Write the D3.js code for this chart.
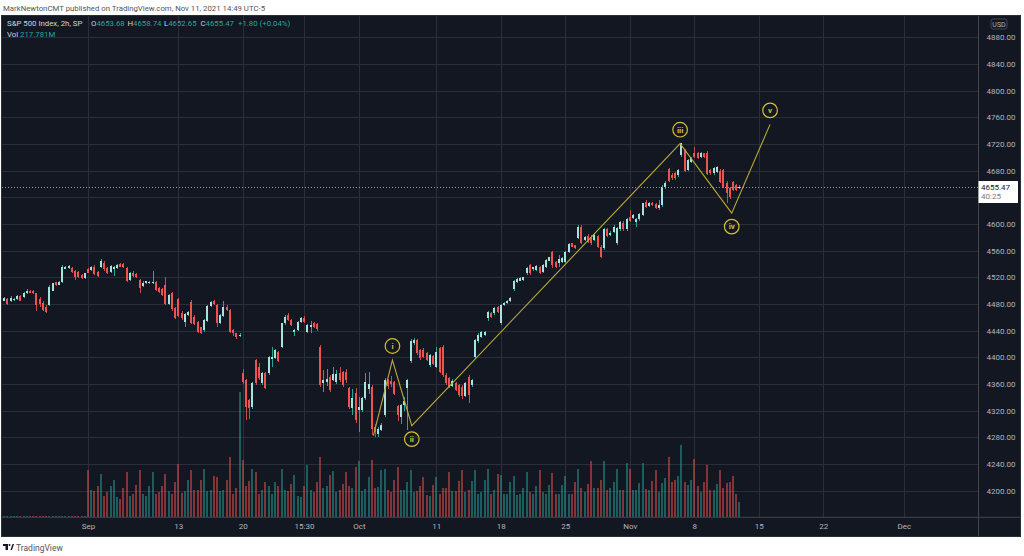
<!DOCTYPE html>
<html><head><meta charset="utf-8">
<script src="https://cdn.jsdelivr.net/npm/d3@7/dist/d3.min.js"></script>
<style>html,body{margin:0;padding:0;background:#fff;overflow:hidden}text{font-family:Roboto,"Open Sans",sans-serif}</style>
</head><body><svg id="c" width="1024" height="556"></svg>
<script>
// ---- data ----
const firstBarIndex = -26; // bar index of first candle (0 = Sep 1, 9:30)
const opens = [4485,4487,4485,4487,4487,4492,4490,4496,4500,4500,4496,4487,4482,4476,4478.5,4500,4512.5,4509,4513.5,4533,4533.5,4533.5,4530,4528.5,4523.5,4518.5,
4532,4531,4536,4528.5,4536,4542,4533.5,4528.5,4532,4533.5,4540,4540,4533.5,4516,4527,4525,4516,4507,4511,4511,4511,4513.5,4503.5,4502,4508.5,4480,4496,4473.5,4487,4467,4453.5,4463.5,4483.5,4461,4453.5,4445,4441,4455,4477,4485,4478.5,4452,4462,4476,4471,4441,4436,4432,
4377,4366,4336,4325,4396,4386,4361,4376,4376,4397,4398.5,4408.5,4416,4451,4463.5,4456,4438.5,4441,4453.5,4458.5,4438.5,4446,4451,4450,4416,4362,4363.5,4371,4366,4363.5,4377,4378.5,4378.5,4353.5,4323.5,4346,4321,4321,4338.5,4352,
4355,4296,4285,4291,4314,4366,4365,4363,4327,4310,4328,4354,4394,4421,4426,4411,4411,4406,4388.5,4402,4386,4413.5,4416,4373.5,4368.5,4357,4361,4358.5,4356,4342,4371,4358.5,
4401,4424,4431,4434,4458.5,4466,4466,4475,4451,4478.5,4481,4484,4502,4513.5,4515,4516,4526,4538.5,4532,4531,4536,4528.5,4536,4545,4558.5,4543.5,4542,4543.5,4543.5,4558.5,4571,4568,
4578.5,4596,4576,4582,4581,4576,4582,4566,4563.5,4592,4583.5,4588.5,4571,4592,4602,4592,4611,4608.5,4603.5,4607,4613.5,4633.5,4627,4631.5,4630,4623.5,4628.5,4655,
4682,4673.5,4676,4673.5,4703.5,4711,4681,4693.5,4706,4706,4701,4706,4707,4681,4676,4678.5,4680,4681,4662,4653.5,4663.5,4658.5,4653.68];
const highs = [4490,4489,4492,4489,4493,4494,4498,4502,4501,4501,4497,4490,4484,4478,4509,4512,4513,4514,4538,4537,4539,4535,4531,4530,4525,4527,
4534,4537,4538,4530,4547,4544,4535,4538,4537,4540,4541,4542,4536,4528,4529,4526,4518,4514,4515,4515,4530,4515,4505,4504,4520,4495,4498,4475,4489,4469,4467,4470,4486,4463,4455,4446,4458,4478,4485,4486,4480,4465,4484,4478,4472,4442,4437,4436,
4383,4368,4338,4363,4397,4392,4378,4378,4402,4416,4412,4410,4452,4463,4466,4458,4443,4455,4460,4462,4450,4454,4453,4452,4418,4381,4383,4374,4386,4381,4386,4380,4382,4356,4353,4354,4341,4341,4376,4378,
4358,4300,4295,4302,4369,4368,4372,4365,4329,4330,4340,4368,4428,4429,4428,4413,4414,4408,4405,4404,4416,4416,4418,4376,4370,4368,4363,4360,4358,4363,4373,4368,
4428,4436,4440,4440,4470,4468,4475,4477,4480,4483,4486,4490,4516,4519,4520,4521,4535,4540,4536,4538,4537,4540,4548,4551,4560,4545,4553.5,4550,4560,4571,4572,4569,
4598,4598,4582,4585,4583,4585,4584,4568,4594,4594,4589,4598,4595,4605,4604,4609,4621,4615,4609,4616,4632,4636,4633,4633,4631,4636,4658,4664,
4684,4676,4678,4683,4721,4713,4698,4700,4716,4708,4708.5,4707,4709,4683,4685,4687,4682,4683,4664,4656,4665,4660,4658.74];
const lows = [4484,4479,4483,4485,4486,4484,4489,4495,4496,4495,4470,4476,4469,4467,4477,4499,4507,4508,4512,4532,4532,4527,4516,4519,4517,4517,
4526,4529,4523,4520,4534,4530,4525,4527,4522,4532,4535,4534,4513,4514,4520,4519,4496,4505,4510,4510,4510,4499,4497,4492,4478,4478,4470,4457,4460,4456,4446,4462,4450,4448,4436,4435,4438,4453,4475,4478,4446,4450,4460,4469,4436,4432,4428,4430,
4360,4306,4308,4323,4359,4366,4359,4352,4374,4386,4397,4393,4414,4449,4454,4447,4432,4439,4452,4452,4437,4437,4444,4440,4356,4348,4357,4348,4364,4360,4363,4356,4362,4322,4313,4302,4288,4318,4336,4345,
4283,4281,4281,4289,4310,4352,4356,4343,4305,4300,4320,4291,4392,4419,4404,4396,4399,4394,4386,4388,4384,4376,4371,4359,4354,4355,4349,4341,4338,4340,4331,4356,
4399,4422,4429,4432,4455,4459,4464,4466,4449,4477,4480,4483,4500,4512,4514,4515,4524,4524,4530,4529,4525,4527,4534,4544,4533.5,4534,4536,4542,4542,4557,4565,4562,
4577,4570,4574,4571,4569,4574,4564,4549,4561,4580,4582,4587,4569,4590,4590,4590,4603,4607,4596,4605,4612,4624,4626,4627,4622,4621,4626,4653,
4663,4666,4666,4671,4701,4678,4679,4692,4699,4697,4699,4698.5,4673,4674,4674,4677,4661,4654,4631,4638,4649,4649,4652.65];
const closes = [4488.5,4480,4488.5,4487.5,4492,4485,4497,4500,4497,4496,4478.5,4480,4471,4468.5,4506,4511,4508.5,4513,4536,4535,4537,4528.5,4521,4521,4518.5,4526,
4527,4536,4525,4522,4545,4532,4526,4537,4536,4538.5,4536,4535,4515,4527,4522,4521,4503.5,4512,4514,4513.5,4513.5,4501,4498.5,4493.5,4480,4493.5,4472,4458.5,4462,4458.5,4465,4468.5,4452,4450,4438.5,4437,4456,4477,4483.5,4480,4451,4463.5,4475,4471,4438.5,4436,4430,4433.5,
4363.5,4326,4323.5,4361,4361,4368.5,4376,4353.5,4400,4401,4411,4395,4451,4461,4456,4448.5,4441,4453.5,4458.5,4453.5,4448.5,4448.5,4446,4442,4358,4366,4367,4351,4375,4375,4366,4358.5,4366,4326,4338.5,4306,4326,4338.5,4363.5,4360,
4293,4288,4293,4299,4366,4357,4360,4345,4314,4328,4334,4366,4424,4426,4406,4398.5,4401,4396,4403.5,4390,4408.5,4378.5,4373.5,4361,4356,4364,4351,4343.5,4342,4361,4343,4366,
4426,4434,4438.5,4438.5,4468.5,4461,4473.5,4468.5,4478.5,4482,4485,4488.5,4515,4518,4518.5,4520,4533.5,4526,4535,4537,4527,4538.5,4546,4550,4538.5,4536,4547,4548.5,4558.5,4570,4566,4563.5,
4596,4572,4580,4573.5,4571,4583.5,4566,4551,4592,4582,4587,4596,4593.5,4603.5,4592,4607,4605,4613.5,4607,4615,4631,4626,4632,4628.5,4623.5,4628.5,4656,4662,
4665,4668.5,4668.5,4681,4721,4680,4696,4698.5,4701,4698.5,4706,4701,4675,4676,4683.5,4685,4663.5,4656,4646,4641,4651,4651,4655.47];
// volume in millions
const volumes = [15,15,15,15,15,15,15,15,15,15,15,15,15,15,15,15,15,15,15,15,15,15,15,15,15,15,
682,392,377,450,624,305,363,450,537,290,261,421,653,305,334,464,682,334,305,450,653,334,363,450,624,377,334,508,769,348,377,537,682,392,392,537,696,377,392,595,580,377,392,537,870,334,421,1813,
827,450,522,696,653,334,392,508,450,334,508,450,696,392,377,479,609,305,290,450,754,392,363,508,870,421,450,609,667,363,392,479,653,450,421,725,812,377,406,580,
827,421,435,682,696,392,363,537,725,392,392,508,682,363,377,450,580,319,305,464,580,334,421,421,653,377,377,522,682,363,392,522,
682,334,363,537,696,334,392,624,609,334,334,508,595,319,334,421,653,363,334,450,682,363,334,464,638,334,334,464,595,334,334,508,
696,421,363,479,812,421,421,537,812,392,421,508,696,392,392,783,696,392,392,493,783,406,392,522,682,363,493,566,
870,508,537,595,1044,508,464,537,841,450,363,508,754,392,392,479,682,421,493,508,595,334,217.781];
// x-axis ticks (bar index) and labels
const tickIndex = [0,28,48,67,84,108,128,148,168,188,208,228,253];
const tickLabels = ["Sep","13","20","15:30","Oct","11","18","25","Nov","8","15","22","Dec"];
const priceTicks = [4200,4240,4280,4320,4360,4400,4440,4480,4520,4560,4600,4640,4680,4720,4760,4800,4840,4880];
// Elliott wave annotation
const waveLabels = ["","i","ii","iii","iv","v"];
const waveIndex = [88.5,94.4,100.4,183.6,199.6,211.5];
const wavePrice = [4282.6,4396,4297.6,4720.4,4616.3,4749.4];
const lastPrice = 4655.47;

// ---- layout ----
const svg = d3.select("#c");
const plotL = 2, plotR = 978, plotT = 16, plotB = 517.3;
const x = d3.scaleLinear().domain([0, 208]).range([88, 758.8]);
const y = d3.scaleLinear().domain([4200, 4880]).range([490.7, 37.3]);
const vy = d3.scaleLinear().domain([0, 1450]).range([plotB, plotB - 100]);

const bg = "#131722", grid = "#2a2e39", txt = "#b2b5be";
const upBody = "#a6e3dc", upWick = "#26a69a", dnBody = "#ef5350", dnWick = "#c94a4a";
const upVol = "rgba(38,166,154,0.5)", dnVol = "rgba(239,83,80,0.5)";
const FS = 7.8;

svg.append("rect").attr("x",0).attr("y",0).attr("width",1024).attr("height",556).attr("fill","#fff");
svg.append("text").attr("x",3).attr("y",10.5).attr("font-size",FS).attr("fill","#555")
  .text("MarkNewtonCMT published on TradingView.com, Nov 11, 2021 14:49 UTC-5");
svg.append("rect").attr("x",1.5).attr("y",15.5).attr("width",1019).attr("height",521)
  .attr("fill",bg).attr("stroke","#2a2e39");

svg.append("defs").append("clipPath").attr("id","pc").append("rect")
  .attr("x",plotL).attr("y",plotT).attr("width",plotR-plotL).attr("height",plotB-plotT);
const plot = svg.append("g").attr("clip-path","url(#pc)");

// grid
plot.append("g").selectAll("line").data(priceTicks).join("line")
  .attr("x1",plotL).attr("x2",plotR).attr("y1",d=>Math.round(y(d))+0.5).attr("y2",d=>Math.round(y(d))+0.5)
  .attr("stroke",grid);
plot.append("g").selectAll("line").data(tickIndex).join("line")
  .attr("y1",plotT).attr("y2",plotB).attr("x1",d=>Math.round(x(d))+0.5).attr("x2",d=>Math.round(x(d))+0.5)
  .attr("stroke",grid);

// bars
const bars = opens.map((o,k)=>({i:firstBarIndex+k,o,h:highs[k],l:lows[k],c:closes[k],v:volumes[k]}));
const isUp = d => d.c >= d.o;
const bx = d => Math.round(x(d.i) - 1);

plot.append("g").selectAll("rect").data(bars).join("rect")
  .attr("x",bx).attr("width",2)
  .attr("y",d=>vy(d.v)).attr("height",d=>Math.max(1, plotB - vy(d.v)))
  .attr("fill",d=>isUp(d)?upVol:dnVol).attr("shape-rendering","crispEdges");

plot.append("g").selectAll("rect").data(bars).join("rect")
  .attr("x",d=>bx(d)+1).attr("width",1)
  .attr("y",d=>y(d.h)).attr("height",d=>Math.max(1,y(d.l)-y(d.h)))
  .attr("fill",d=>isUp(d)?upWick:dnWick).attr("shape-rendering","crispEdges");

plot.append("g").selectAll("rect").data(bars).join("rect")
  .attr("x",bx).attr("width",2)
  .attr("y",d=>y(Math.max(d.o,d.c))).attr("height",d=>Math.max(1,Math.abs(y(d.o)-y(d.c))))
  .attr("fill",d=>isUp(d)?upBody:dnBody).attr("shape-rendering","crispEdges");

// last price dotted line
plot.append("line").attr("x1",plotL).attr("x2",plotR)
  .attr("y1",Math.round(y(lastPrice))+0.5).attr("y2",Math.round(y(lastPrice))+0.5)
  .attr("stroke","#9598a1").attr("stroke-dasharray","1,2");

// Elliott wave
const wave = waveIndex.map((i,k)=>({i,p:wavePrice[k],lab:waveLabels[k],
  up: k>0 && wavePrice[k] > wavePrice[k-1]}));
plot.append("path").datum(wave)
  .attr("d", d3.line().x(d=>x(d.i)).y(d=>y(d.p)))
  .attr("fill","none").attr("stroke","#b9aa37").attr("stroke-width",1.1);
const wl = plot.append("g").selectAll("g").data(wave.filter(d=>d.lab)).join("g")
  .attr("transform",d=>`translate(${x(d.i)},${y(d.p) + (d.up?-14:13.5)})`);
wl.append("circle").attr("r",7.3).attr("fill","none").attr("stroke","#d4c130").attr("stroke-width",1.2);
wl.append("text").attr("text-anchor","middle").attr("dy","0.35em").attr("font-size",8)
  .attr("font-weight","bold").attr("fill","#d4c130").text(d=>d.lab);

// axes frame
svg.append("line").attr("x1",plotR+0.5).attr("x2",plotR+0.5).attr("y1",plotT).attr("y2",536)
  .attr("stroke","#434651");
svg.append("line").attr("x1",plotL).attr("x2",1020).attr("y1",plotB).attr("y2",plotB)
  .attr("stroke","#434651");

// right axis
const ra = svg.append("g").attr("transform",`translate(${plotR},0)`)
  .call(d3.axisRight(y).tickValues(priceTicks.filter(p=>p!==4640)).tickSize(0).tickPadding(0)
    .tickFormat(d3.format(".2f")));
ra.select(".domain").remove();
ra.selectAll("text").attr("x",23).attr("text-anchor","middle").attr("fill",txt)
  .attr("font-size",8).attr("font-family","Roboto,sans-serif");

// bottom axis
const ba = svg.append("g").attr("transform",`translate(0,${plotB})`)
  .call(d3.axisBottom(x).tickValues(tickIndex).tickSize(0).tickPadding(0)
    .tickFormat((d,k)=>tickLabels[k]));
ba.select(".domain").remove();
ba.selectAll("text").attr("y",6).attr("fill",txt).attr("font-size",8).attr("font-family","Roboto,sans-serif");

// USD tag
svg.append("rect").attr("x",991).attr("y",19).attr("width",16).attr("height",10).attr("rx",2)
  .attr("fill","none").attr("stroke","#434651");
svg.append("text").attr("x",999).attr("y",26.5).attr("text-anchor","middle").attr("font-size",7)
  .attr("fill",txt).text("USD");

// last price label
const ly = y(lastPrice);
svg.append("rect").attr("x",978.5).attr("y",ly-6).attr("width",39.5).attr("height",22).attr("fill","#fff");
svg.append("text").attr("x",981).attr("y",ly+2.8).attr("font-size",8).attr("fill","#131722")
  .text(d3.format(".2f")(lastPrice));
svg.append("text").attr("x",981).attr("y",ly+11.8).attr("font-size",8).attr("fill","#787b86").text("40:25");

// legend
const lg = svg.append("text").attr("x",7).attr("y",25.5).attr("font-size",FS).attr("fill","#d1d4dc");
lg.append("tspan").text("S&P 500 Index, 2h, SP");
const ohlc = [["O",opens],["H",highs],["L",lows],["C",closes]];
const lx = [91,127.5,164,200.5];
const last = opens.length-1;
ohlc.forEach(([k,arr],j)=>{
  const t = svg.append("text").attr("x",lx[j]).attr("y",25.5).attr("font-size",FS);
  t.append("tspan").attr("fill","#d1d4dc").text(k);
  t.append("tspan").attr("fill","#26a69a").text(d3.format(".2f")(arr[last]));
});
svg.append("text").attr("x",238).attr("y",25.5).attr("font-size",FS).attr("fill","#26a69a")
  .text("+1.80 (+0.04%)");
const vl = svg.append("text").attr("x",7).attr("y",37).attr("font-size",FS);
vl.append("tspan").attr("fill","#d1d4dc").text("Vol ");
vl.append("tspan").attr("fill","#26a69a").text(d3.format(".3f")(volumes[last])+"M");

// footer logo
const logo = svg.append("g").attr("fill","#131722");
logo.append("rect").attr("x",3).attr("y",544).attr("width",5).attr("height",2);
logo.append("rect").attr("x",5.5).attr("y",544).attr("width",2.5).attr("height",6);
logo.append("circle").attr("cx",9.5).attr("cy",545).attr("r",1);
logo.append("path").attr("d","M10.5 550 L12.5 544 L14 544 L12 550 Z");
svg.append("text").attr("x",16).attr("y",550.5).attr("font-size",8.5).attr("fill","#555").text("TradingView");
</script></body></html>
